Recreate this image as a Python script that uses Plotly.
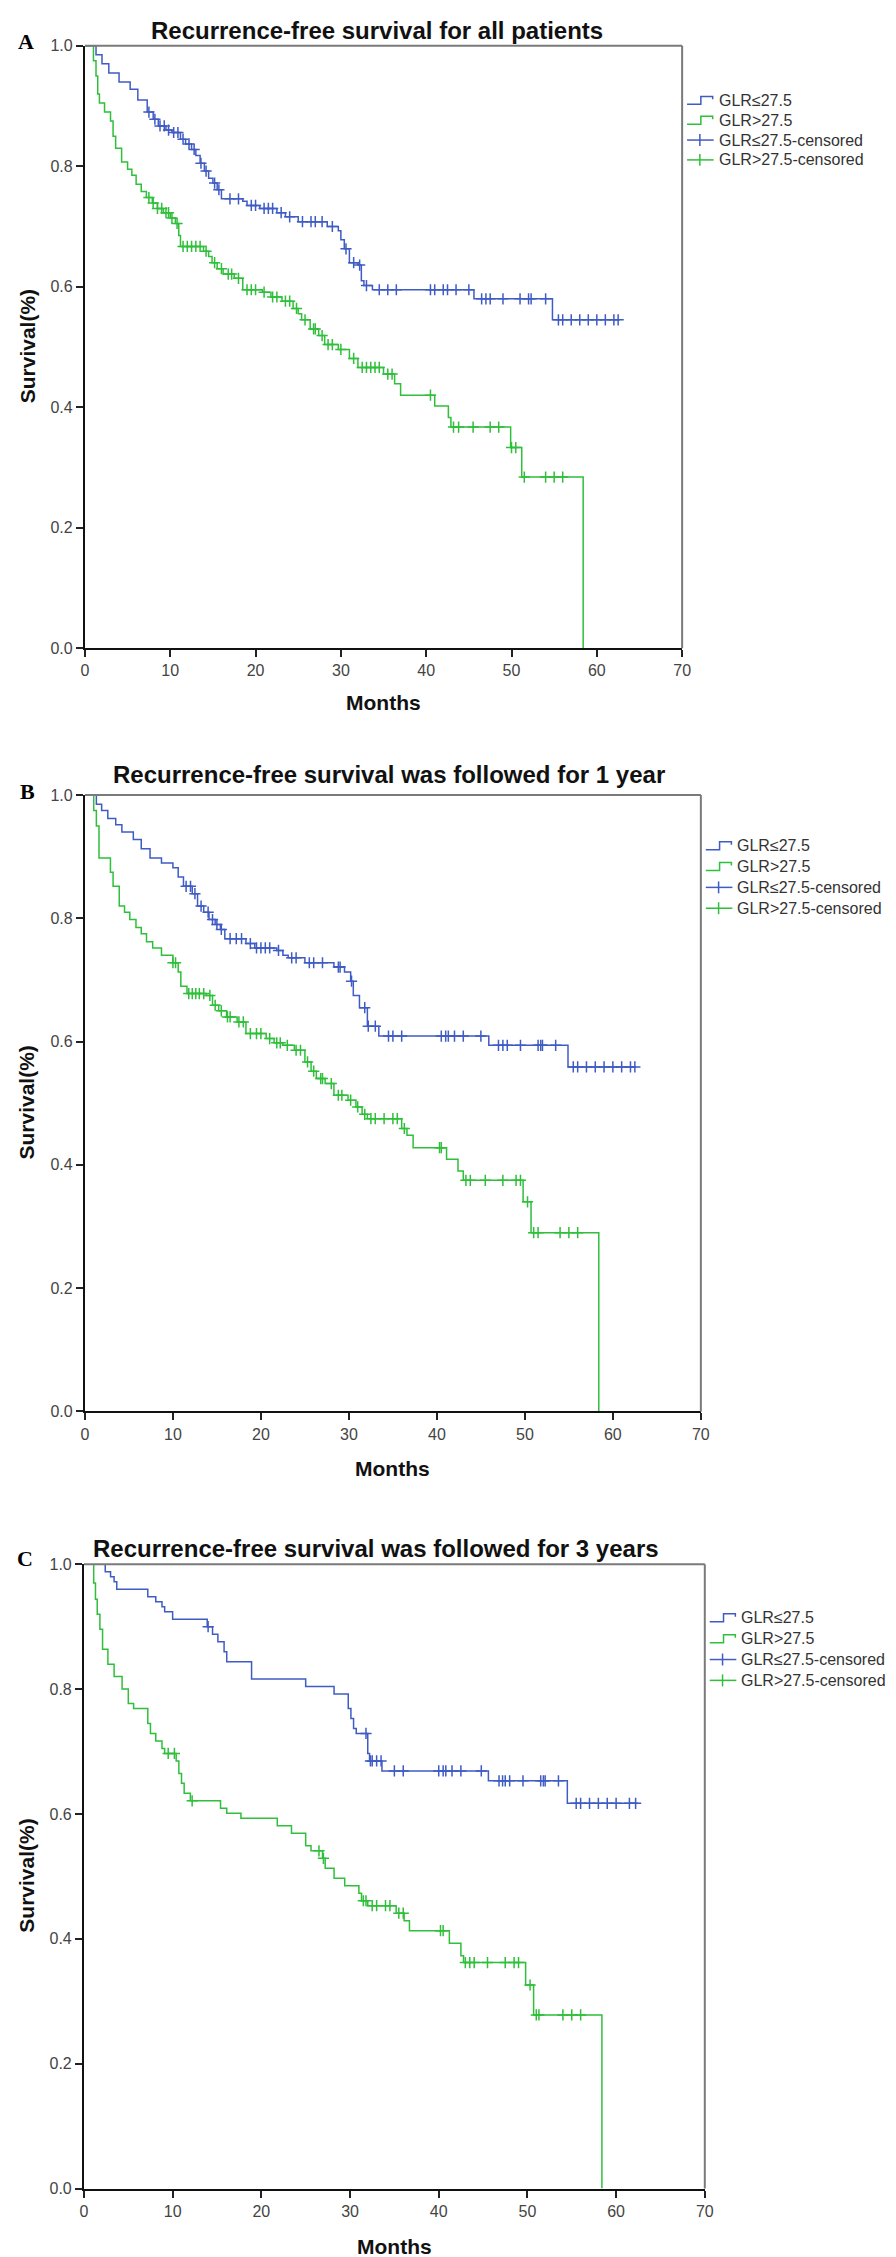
import numpy as np
import plotly.graph_objects as go

# ---------------- data ----------------
x_ticks = [0, 10, 20, 30, 40, 50, 60, 70]
y_ticks = [0.0, 0.2, 0.4, 0.6, 0.8, 1.0]

titles = ["Recurrence-free survival for all patients",
          "Recurrence-free survival was followed for 1 year",
          "Recurrence-free survival was followed for 3 years"]
panel_letters = ["A", "B", "C"]
legend_labels = ["GLR\u226427.5", "GLR>27.5", "GLR\u226427.5-censored", "GLR>27.5-censored"]

# Panel A
a_low_t = [1.3, 2.0, 2.8, 4.0, 5.3, 6.2, 7.3, 8.0, 8.6, 9.5, 10.2, 11.2, 11.8, 12.5, 13.0, 13.5, 14.0, 14.5,
           15.0, 15.5, 16.0, 18.5, 19.0, 20.5, 22.5, 23.5, 25.0, 28.4, 29.7, 30.0, 30.4, 31.0, 32.0, 32.4,
           32.7, 33.7, 45.6, 54.8]
a_low_s = [0.985, 0.97, 0.955, 0.94, 0.928, 0.91, 0.89, 0.878, 0.867, 0.86, 0.856, 0.845, 0.837, 0.828, 0.818,
           0.805, 0.792, 0.78, 0.772, 0.761, 0.746, 0.742, 0.735, 0.73, 0.723, 0.716, 0.708, 0.70, 0.693, 0.678,
           0.663, 0.64, 0.636, 0.61, 0.602, 0.595, 0.58, 0.545]
a_low_end = 62.7
a_low_cens = [7.5, 8.2, 8.8, 9.3, 9.8, 10.4, 10.9, 11.5, 12.2, 12.8, 13.6, 14.2, 15.2, 15.7, 17.0, 18.0, 19.5,
              20.0, 21.0, 21.5, 22.0, 23.0, 24.0, 25.5, 26.5, 27.0, 27.8, 29.0, 30.6, 31.5, 32.2, 33.0, 34.5,
              35.5, 36.5, 40.5, 41.0, 42.0, 42.5, 43.5, 45.0, 46.5, 47.0, 47.5, 49.0, 51.0, 52.0, 52.3, 54.0,
              55.5, 56.0, 57.0, 58.0, 59.0, 60.0, 61.0, 62.0, 62.5]
a_high_t = [1.0, 1.3, 1.5, 1.7, 2.3, 3.0, 3.3, 3.6, 4.3, 5.0, 5.5, 6.0, 6.6, 7.2, 7.9, 8.5, 9.2, 10.0, 10.6,
            11.0, 11.2, 13.9, 14.5, 14.9, 15.5, 16.2, 17.5, 18.5, 20.8, 21.8, 23.1, 24.4, 25.0, 25.4, 26.4,
            27.4, 28.1, 29.7, 31.0, 32.0, 35.0, 36.3, 37.0, 41.0, 42.6, 42.9, 49.9, 51.2, 58.4]
a_high_s = [0.975, 0.95, 0.92, 0.905, 0.89, 0.875, 0.85, 0.83, 0.807, 0.795, 0.785, 0.77, 0.758, 0.748, 0.739,
            0.73, 0.723, 0.714, 0.705, 0.685, 0.667, 0.659, 0.65, 0.64, 0.63, 0.621, 0.614, 0.595, 0.591, 0.583,
            0.576, 0.564, 0.555, 0.545, 0.53, 0.519, 0.504, 0.496, 0.481, 0.466, 0.455, 0.439, 0.42, 0.402,
            0.383, 0.367, 0.333, 0.284, 0.0]
a_high_cens = [7.5, 8.0, 8.5, 9.0, 9.5, 9.8, 10.2, 10.8, 11.5, 12.0, 12.5, 13.0, 13.5, 14.2, 15.2, 16.0, 16.8,
               17.2, 18.0, 19.0, 19.5, 20.0, 21.0, 22.0, 22.5, 23.5, 24.0, 24.8, 25.8, 26.8, 27.0, 27.8, 28.5,
               29.0, 30.0, 31.5, 32.5, 33.0, 33.5, 34.0, 34.5, 35.5, 36.0, 40.5, 43.2, 43.8, 45.5, 47.5, 48.5,
               50.0, 50.5, 51.5, 54.0, 55.0, 56.0]

# Panel B
b_low_t = [1.3, 1.9, 2.6, 3.5, 4.2, 5.5, 6.4, 7.4, 8.7, 10.0, 10.6, 11.2, 12.2, 12.8, 13.5, 14.1, 14.8, 15.4,
           15.9, 18.3, 19.3, 21.8, 22.5, 23.1, 25.0, 28.3, 29.5, 30.2, 30.5, 31.2, 32.1, 33.4, 45.9, 54.9]
b_low_s = [0.985, 0.975, 0.962, 0.952, 0.94, 0.928, 0.913, 0.898, 0.89, 0.882, 0.867, 0.852, 0.84, 0.82, 0.81,
           0.798, 0.79, 0.782, 0.767, 0.759, 0.752, 0.748, 0.74, 0.736, 0.728, 0.721, 0.713, 0.698, 0.675,
           0.655, 0.625, 0.609, 0.594, 0.559]
b_low_end = 62.6
b_low_cens = [11.5, 12.0, 12.5, 13.2, 14.0, 14.5, 15.0, 15.5, 16.5, 17.2, 17.8, 18.8, 19.5, 20.0, 20.5, 21.0,
              22.0, 23.5, 24.0, 25.5, 26.0, 27.0, 28.8, 29.0, 30.3, 31.8, 32.2, 33.0, 34.5, 35.0, 36.0, 40.5,
              41.0, 41.3, 42.0, 43.0, 45.0, 47.0, 47.5, 48.0, 49.5, 51.5, 51.8, 52.0, 53.5, 55.5, 56.0, 57.0,
              58.0, 59.0, 60.0, 61.0, 62.0, 62.5]
b_high_t = [1.0, 1.3, 1.6, 2.9, 3.2, 3.9, 4.5, 5.1, 5.8, 6.4, 7.0, 7.7, 8.7, 10.0, 10.6, 10.9, 11.6, 13.8, 14.5,
            15.2, 16.1, 17.3, 18.3, 20.6, 21.5, 22.5, 23.8, 25.0, 25.7, 26.3, 27.3, 28.3, 29.9, 30.8, 31.5,
            32.1, 36.0, 36.6, 37.3, 41.1, 42.4, 43.0, 49.8, 50.7, 58.4]
b_high_s = [0.975, 0.95, 0.898, 0.875, 0.852, 0.82, 0.81, 0.798, 0.785, 0.775, 0.762, 0.752, 0.74, 0.728, 0.713,
            0.69, 0.678, 0.675, 0.659, 0.65, 0.64, 0.632, 0.613, 0.605, 0.598, 0.594, 0.586, 0.567, 0.552, 0.54,
            0.532, 0.513, 0.505, 0.494, 0.482, 0.475, 0.459, 0.448, 0.428, 0.409, 0.39, 0.375, 0.34, 0.29, 0.0]
b_high_cens = [10.0, 10.3, 11.8, 12.2, 12.6, 13.0, 13.5, 14.2, 14.8, 15.5, 16.2, 16.5, 17.5, 18.0, 18.8, 19.5,
               20.0, 21.0, 21.8, 22.2, 23.0, 24.0, 24.5, 25.3, 26.0, 26.8, 27.0, 28.0, 28.8, 29.2, 30.2, 31.0,
               31.8, 32.5, 33.0, 34.0, 35.0, 35.5, 36.3, 40.3, 40.5, 43.3, 43.8, 45.5, 47.5, 49.0, 49.5, 50.3,
               51.0, 51.5, 54.0, 55.0, 56.0]

# Panel C
c_low_t = [2.4, 3.0, 3.4, 3.7, 7.2, 8.1, 8.8, 9.1, 10.0, 13.9, 14.5, 15.1, 15.8, 16.1, 18.9, 25.0, 28.2, 29.8,
           30.1, 30.4, 30.7, 32.0, 32.2, 33.6, 45.6, 54.5]
c_low_s = [0.988, 0.98, 0.972, 0.96, 0.948, 0.94, 0.932, 0.924, 0.912, 0.9, 0.888, 0.876, 0.86, 0.844, 0.816,
           0.804, 0.792, 0.769, 0.753, 0.737, 0.729, 0.697, 0.685, 0.669, 0.653, 0.617]
c_low_end = 62.5
c_low_cens = [14.0, 31.8, 32.3, 32.5, 33.0, 33.5, 35.0, 36.0, 40.0, 40.5, 40.8, 41.5, 42.5, 44.8, 46.8, 47.2,
              47.5, 48.0, 49.5, 51.5, 51.8, 52.0, 53.5, 55.5, 56.0, 57.0, 58.0, 59.0, 60.0, 61.5, 62.2]
c_high_t = [1.1, 1.3, 1.5, 1.8, 2.1, 2.7, 3.4, 4.3, 5.0, 5.6, 7.2, 7.5, 8.1, 8.8, 9.1, 10.4, 10.7, 11.0, 11.3,
            12.0, 15.4, 16.1, 17.7, 21.8, 23.4, 25.0, 25.6, 26.9, 27.2, 28.2, 29.4, 31.0, 31.3, 32.0, 35.2,
            36.1, 36.7, 41.2, 42.5, 42.8, 49.8, 50.7, 58.4]
c_high_s = [0.97, 0.944, 0.92, 0.896, 0.864, 0.84, 0.82, 0.8, 0.777, 0.769, 0.745, 0.729, 0.717, 0.705, 0.697,
            0.685, 0.665, 0.649, 0.633, 0.621, 0.609, 0.601, 0.593, 0.581, 0.569, 0.549, 0.541, 0.529, 0.513,
            0.497, 0.485, 0.473, 0.461, 0.453, 0.441, 0.429, 0.413, 0.393, 0.373, 0.362, 0.326, 0.278, 0.0]
c_high_cens = [9.5, 10.2, 12.2, 26.5, 27.0, 31.5, 31.8, 32.5, 33.0, 34.0, 34.5, 35.5, 36.0, 40.2, 40.5, 43.0,
               43.5, 44.0, 45.5, 47.5, 48.5, 49.0, 50.3, 51.0, 51.3, 54.0, 55.0, 56.0]

# ---------------- styling / layout ----------------
W, H = 896, 2257
BLUE = "#3f5bc4"
GREEN = "#2fbf3a"
SANS = "Liberation Sans, Arial, sans-serif"
SERIF = "Liberation Serif, Times New Roman, serif"

# plot rectangles in pixels: (left, top, right, bottom)
rects = [(74, 30, 680, 637), (74, 785, 699, 1406), (73, 1560, 703, 2189)]
title_pos = [(370, 15), (383, 764), (369, 1544)]
letter_pos = [(14, 26), (16, 781), (13, 1554)]
months_pos = [(377, 692), (386, 1464), (388, 2247)]
ylab_pos = [(16, 333), (15, 1095), (15, 1874)]
legend_x = [685, 704, 708]
legend_y = [[85, 105, 125, 145], [836, 857, 878, 899], [1614, 1635, 1656, 1677]]

panels = [
    (a_low_t, a_low_s, a_low_end, a_low_cens, a_high_t, a_high_s, a_high_cens),
    (b_low_t, b_low_s, b_low_end, b_low_cens, b_high_t, b_high_s, b_high_cens),
    (c_low_t, c_low_s, c_low_end, c_low_cens, c_high_t, c_high_s, c_high_cens),
]


def px(x):
    return x / W


def py(y):
    return 1 - y / H


def step_xy(times, surv, end=None):
    xs = [0.0] + list(times)
    ys = [1.0] + list(surv)
    if end is not None:
        xs.append(end)
        ys.append(surv[-1])
    return xs, ys


def surv_at(times, surv, tc):
    out = []
    for t in tc:
        i = int(np.searchsorted(np.asarray(times), t, side="right"))
        out.append(1.0 if i == 0 else surv[i - 1])
    return out


fig = go.Figure()
annotations = []
shapes = []

for k, (lt, ls, lend, lc, ht, hs, hc) in enumerate(panels):
    sfx = "" if k == 0 else str(k + 1)
    xa, ya = "x" + sfx, "y" + sfx
    # curves
    for (tt, ss, end, cc, col) in [(lt, ls, lend, lc, BLUE), (ht, hs, None, hc, GREEN)]:
        xs, ys = step_xy(tt, ss, end)
        fig.add_trace(go.Scatter(x=xs, y=ys, mode="lines", line=dict(color=col, width=1.5, shape="hv"),
                                 xaxis=xa, yaxis=ya, showlegend=False, hoverinfo="skip"))
        fig.add_trace(go.Scatter(x=cc, y=surv_at(tt, ss, cc), mode="markers",
                                 marker=dict(symbol="cross-thin", size=8, line=dict(color=col, width=1.5)),
                                 xaxis=xa, yaxis=ya, showlegend=False, hoverinfo="skip", cliponaxis=False))
    l, t, r, b = rects[k]
    axis_common = dict(showgrid=False, zeroline=False, showline=True, linecolor="#111", linewidth=2,
                       ticks="outside", ticklen=7, tickwidth=2, tickcolor="#222",
                       tickfont=dict(family=SANS, size=16, color="#444"))
    fig.layout["xaxis" + sfx] = dict(domain=[px(l), px(r)], range=[0, 70], tickvals=x_ticks,
                                     anchor=ya, **axis_common)
    fig.layout["yaxis" + sfx] = dict(domain=[py(b), py(t)], range=[0, 1], tickvals=y_ticks,
                                     tickformat=".1f", anchor=xa, **axis_common)
    # top and right frame (gray)
    shapes.append(dict(type="line", xref=xa + " domain", yref=ya + " domain", x0=0, x1=1, y0=1, y1=1,
                       line=dict(color="#7a7a7a", width=2)))
    shapes.append(dict(type="line", xref=xa + " domain", yref=ya + " domain", x0=1, x1=1, y0=0, y1=1,
                       line=dict(color="#7a7a7a", width=2)))
    # texts
    annotations.append(dict(text="<b>%s</b>" % titles[k], x=px(title_pos[k][0]), y=py(title_pos[k][1]),
                            xref="paper", yref="paper", showarrow=False, xanchor="center", yanchor="middle",
                            font=dict(family=SANS, size=24, color="#111")))
    annotations.append(dict(text="<b>%s</b>" % panel_letters[k], x=px(letter_pos[k][0]), y=py(letter_pos[k][1]),
                            xref="paper", yref="paper", showarrow=False, xanchor="center", yanchor="middle",
                            font=dict(family=SERIF, size=22, color="#000")))
    annotations.append(dict(text="<b>Months</b>", x=px(months_pos[k][0]), y=py(months_pos[k][1]), xref="paper",
                            yref="paper", showarrow=False, xanchor="center", yanchor="middle",
                            font=dict(family=SANS, size=21, color="#111")))
    annotations.append(dict(text="<b>Survival(%)</b>", x=px(ylab_pos[k][0]), y=py(ylab_pos[k][1]), xref="paper",
                            yref="paper", showarrow=False, xanchor="center", yanchor="middle", textangle=-90,
                            font=dict(family=SANS, size=21, color="#111")))
    # legend (drawn manually)
    lx = legend_x[k]
    for j, lab in enumerate(legend_labels):
        yy = legend_y[k][j]
        col = BLUE if j % 2 == 0 else GREEN
        if j < 2:
            path = "M %f,%f L %f,%f L %f,%f L %f,%f L %f,%f" % (
                px(lx), py(yy + 4), px(lx + 14), py(yy + 4), px(lx + 14), py(yy - 4),
                px(lx + 26), py(yy - 4), px(lx + 26), py(yy - 1))
            shapes.append(dict(type="path", path=path, xref="paper", yref="paper",
                               line=dict(color=col, width=1.5)))
        else:
            shapes.append(dict(type="line", xref="paper", yref="paper", x0=px(lx), x1=px(lx + 27),
                               y0=py(yy), y1=py(yy), line=dict(color=col, width=1.5)))
            shapes.append(dict(type="line", xref="paper", yref="paper", x0=px(lx + 13), x1=px(lx + 13),
                               y0=py(yy - 6), y1=py(yy + 6), line=dict(color=col, width=1.5)))
        annotations.append(dict(text=lab, x=px(lx + 30), y=py(yy), xref="paper", yref="paper",
                                showarrow=False, xanchor="left", yanchor="middle",
                                font=dict(family=SANS, size=16, color="#333")))

fig.update_layout(width=W, height=H, margin=dict(l=0, r=0, t=0, b=0), paper_bgcolor="white",
                  plot_bgcolor="white", showlegend=False, annotations=annotations, shapes=shapes)

fig.write_html("out.html")
